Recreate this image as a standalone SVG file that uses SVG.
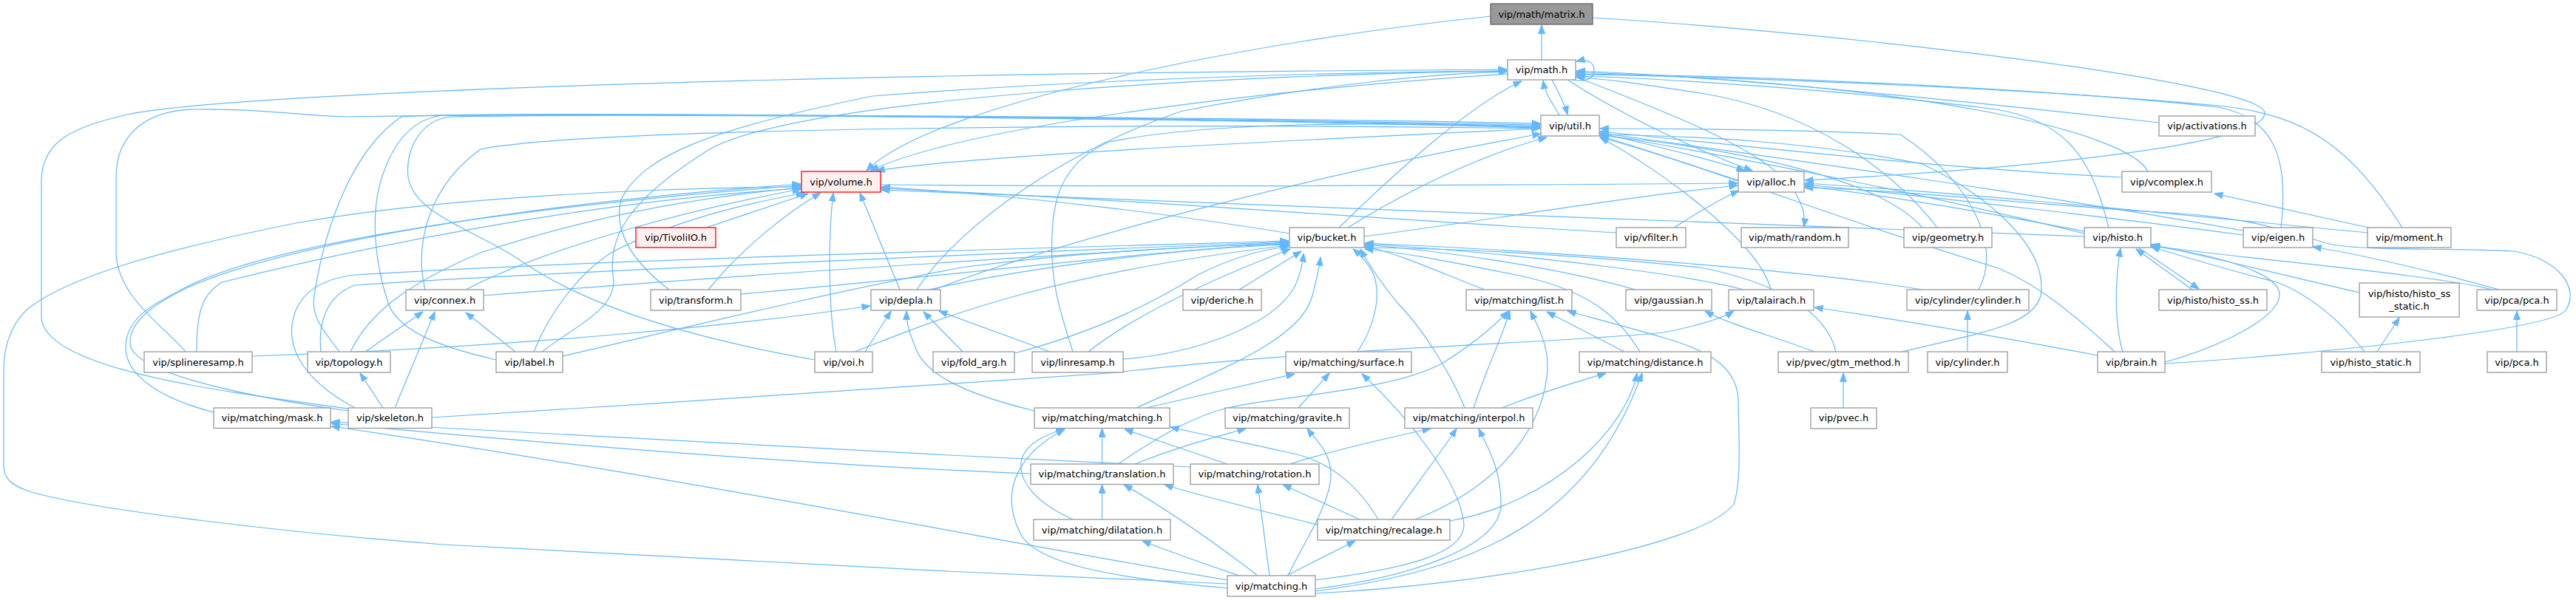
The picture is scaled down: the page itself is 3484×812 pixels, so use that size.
<svg xmlns="http://www.w3.org/2000/svg" width="3484" height="812" viewBox="0 0 3484 812">
<defs>
<style>
.n rect{fill:#ffffff;stroke:#999999;stroke-width:1.3}
.root rect{fill:#999999;stroke:#666666;stroke-width:1.3}
.tr rect{fill:#fff0f0;stroke:#ff0000;stroke-width:1.3}
text{font-family:"DejaVu Sans","Liberation Sans",sans-serif;font-size:13px;fill:#000000;text-anchor:middle}
.e path{fill:none;stroke:#63b8ff;stroke-width:1.2;marker-end:url(#ah)}
</style>
<marker id="ah" viewBox="0 0 12 10" refX="11.5" refY="5" markerWidth="12" markerHeight="10" markerUnits="userSpaceOnUse" orient="auto">
<path d="M0,0.5 L12,5 L0,9.5 z" fill="#63b8ff" stroke="#63b8ff" stroke-width="0.8"/>
</marker>
</defs>
<rect x="0" y="0" width="3484" height="812" fill="#ffffff"/>
<g id="connectors" class="e">
<path d="M2085,81 L2085,34"/>
<path d="M2016,22 C1700,55 1260,140 1172,231"/>
<path d="M2154,24 C2500,45 3040,110 3062,150 C3080,190 2800,225 2441,244"/>
<path d="M2126,108 C2148,112 2156,104 2156,95 C2156,85 2148,79 2132,83"/>
<path d="M2109,156 C2100,140 2090,128 2087,109"/>
<path d="M2099,108 C2108,125 2116,140 2120,155"/>
<path d="M2920,166 C2600,130 2300,102 2132,96"/>
<path d="M2905,232 C2880,180 2600,112 2132,98"/>
<path d="M3085,308 C3095,220 3080,160 3000,145 C2750,118 2350,102 2132,100"/>
<path d="M3249,308 C3180,200 3120,155 3000,143 C2750,120 2350,104 2132,101"/>
<path d="M2852,308 C2830,220 2800,165 2700,148 C2500,122 2250,106 2132,103"/>
<path d="M2620,308 C2560,230 2450,150 2300,126 C2220,114 2170,106 2132,105"/>
<path d="M471,553 C300,530 60,500 56,430 L56,245 C56,190 100,172 172,155 C300,128 1000,100 2038,94"/>
<path d="M251,476 C220,440 157,400 157,340 L157,240 C157,180 200,150 260,148 C350,146 420,158 470,158 C800,152 1600,158 2083,167"/>
<path d="M459,476 C440,450 420,430 425,400 C440,300 480,200 543,158 C650,150 1500,158 2083,169"/>
<path d="M671,487 C620,475 540,455 525,410 C505,350 500,280 520,230 C535,190 560,160 600,156 C900,152 1700,162 2083,171"/>
<path d="M1102,487 C950,460 800,420 700,350 C640,310 560,290 552,240 C548,200 570,162 610,158 C900,152 1700,162 2083,173"/>
<path d="M434,476 C430,440 440,400 480,386 C700,370 1300,345 1743,327"/>
<path d="M480,552 C420,520 390,480 395,440 C400,400 430,378 480,372 C800,352 1400,336 1743,326"/>
<path d="M722,476 C740,430 780,370 830,340 C930,290 1040,270 1088,261"/>
<path d="M697,476 L630,423"/>
<path d="M733,476 C780,440 830,420 830,380 C820,320 850,270 963,200 C1100,130 1700,100 2038,96"/>
<path d="M761,482 C900,450 1100,400 1300,362 C1450,342 1600,333 1743,330"/>
<path d="M955,308 L1093,262"/>
<path d="M630,392 C750,330 950,280 1083,256"/>
<path d="M289,558 C220,540 170,510 170,470 C170,430 210,410 240,395 C350,330 700,280 1083,251"/>
<path d="M471,556 C300,532 178,500 176,465 C174,430 222,405 252,390 C380,332 700,276 1083,249"/>
<path d="M1659,790 C1300,775 800,750 600,737 C400,722 120,690 40,665 C12,656 5,645 5,630 L5,500 C5,462 20,432 40,416 C90,378 200,342 400,302 C600,266 900,254 1083,253"/>
<path d="M1811,308 C1880,240 1990,140 2058,110"/>
<path d="M1823,308 C1900,260 2000,210 2092,186"/>
<path d="M1744,316 C1600,292 1400,266 1192,253"/>
<path d="M1676,392 L1760,340"/>
<path d="M1537,552 C1650,500 1760,460 1775,400 C1780,380 1784,365 1786,348"/>
<path d="M1256,392 C1400,360 1600,336 1743,331"/>
<path d="M1372,478 C1480,450 1560,410 1620,372 C1680,342 1720,336 1743,334"/>
<path d="M1472,476 C1530,430 1620,385 1745,337"/>
<path d="M1519,486 C1620,478 1720,440 1750,390 C1760,370 1762,355 1763,343"/>
<path d="M584,565 C900,545 1300,520 1500,505 C1800,470 2100,465 2250,450 C2300,440 2330,430 2345,421"/>
<path d="M1156,476 C1250,440 1400,372 1743,332"/>
<path d="M1002,398 C1300,372 1550,340 1743,329"/>
<path d="M654,400 C1000,372 1500,340 1743,328"/>
<path d="M2008,392 C1950,370 1900,346 1846,333"/>
<path d="M2212,392 C2100,360 1950,340 1846,331"/>
<path d="M2358,392 C2300,376 2100,346 1846,330"/>
<path d="M2599,392 C2450,366 2100,340 1846,329"/>
<path d="M1399,556 C1300,532 1250,505 1238,470 C1230,450 1226,440 1226,421"/>
<path d="M1302,476 L1249,422"/>
<path d="M1420,476 L1270,421"/>
<path d="M341,482 C700,470 1000,440 1177,414"/>
<path d="M1170,476 L1205,421"/>
<path d="M1217,392 L1163,261"/>
<path d="M1240,392 C1300,300 1450,200 1600,150 C1800,112 1950,99 2038,97"/>
<path d="M1263,392 C1450,320 1800,232 2084,181"/>
<path d="M1131,476 C1120,420 1120,320 1127,261"/>
<path d="M958,392 C1000,340 1060,290 1110,261"/>
<path d="M905,392 C850,350 830,310 840,270 C870,210 960,175 1180,130 C1500,105 1850,97 2038,96"/>
<path d="M494,476 L572,422"/>
<path d="M534,552 L588,422"/>
<path d="M518,552 L487,505"/>
<path d="M474,476 C500,420 560,380 650,342 C800,292 950,266 1083,254"/>
<path d="M266,476 C266,430 270,400 300,382 C500,332 800,272 1083,255"/>
<path d="M2163,180 C2250,200 2320,218 2360,231"/>
<path d="M2120,108 C2200,160 2300,205 2370,231"/>
<path d="M2351,244 C2300,228 2220,200 2164,184"/>
<path d="M1191,250 C1600,254 2100,250 2350,248"/>
<path d="M1845,320 C2000,300 2200,266 2350,251"/>
<path d="M2264,308 C2290,292 2320,272 2352,258"/>
<path d="M2819,313 C2700,290 2550,264 2441,252"/>
<path d="M3034,318 C2900,300 2600,264 2441,250"/>
<path d="M3202,315 C3000,296 2700,264 2441,248"/>
<path d="M2870,240 C2600,226 2350,196 2164,178"/>
<path d="M2819,316 C2600,262 2350,212 2164,182"/>
<path d="M3034,312 C2800,270 2400,212 2164,180"/>
<path d="M2600,308 C2540,240 2350,202 2164,183"/>
<path d="M2676,392 C2710,330 2660,240 2570,182 C2450,176 2300,174 2164,174"/>
<path d="M2573,476 C2680,450 2750,440 2760,400 C2770,340 2700,270 2600,222 C2450,192 2300,184 2164,182"/>
<path d="M2483,476 C2470,420 2400,382 2300,362 C2100,342 1950,336 1846,335"/>
<path d="M2395,392 C2380,330 2250,232 2164,186"/>
<path d="M2837,481 C2700,455 2550,430 2454,416"/>
<path d="M2871,476 C2860,440 2860,380 2868,336"/>
<path d="M2928,490 C3000,470 3080,432 3083,400 C3085,370 3000,345 2910,333"/>
<path d="M2928,492 C3100,482 3450,448 3470,420 C3490,390 3460,350 3400,340 C3300,335 3200,340 3150,330 C3100,316 3050,292 2900,286 C2700,272 2550,256 2441,254"/>
<path d="M2860,476 C2800,420 2750,382 2700,362 C2500,302 2300,222 2164,186"/>
<path d="M3198,476 C3170,440 3130,402 3080,382 C3000,362 2950,346 2909,334"/>
<path d="M3215,476 L3245,430"/>
<path d="M3191,396 C3100,375 3000,350 2909,331"/>
<path d="M2965,392 L2889,337"/>
<path d="M2892,335 L2974,391"/>
<path d="M3370,392 C3300,372 3000,347 2909,332"/>
<path d="M3380,392 C3300,370 3200,346 3128,334"/>
<path d="M3404,476 L3404,421"/>
<path d="M2454,476 C2400,455 2340,440 2306,421"/>
<path d="M2197,476 L2092,422"/>
<path d="M2218,476 C2190,430 2150,392 2050,372 C1950,352 1900,342 1846,337"/>
<path d="M1993,552 C2010,500 2030,460 2042,421"/>
<path d="M2031,552 C2100,525 2150,512 2172,505"/>
<path d="M1981,552 C1960,500 1920,440 1890,410 C1870,385 1852,360 1840,337"/>
<path d="M1836,476 C1860,440 1868,400 1858,372 C1850,355 1840,345 1830,337"/>
<path d="M1550,552 L1751,506"/>
<path d="M1756,552 L1798,505"/>
<path d="M1779,785 C1900,770 1980,750 1980,710 C1975,650 1900,560 1842,506"/>
<path d="M1490.5,628 L1490.5,580"/>
<path d="M1535,628 C1600,602 1650,590 1685,580"/>
<path d="M1512,628 C1580,582 1620,562 1660,552 C1720,537 1880,530 1950,492 C1990,467 2020,442 2040,421"/>
<path d="M1394,641 C1100,630 700,597 448,573"/>
<path d="M1660,628 L1521,581"/>
<path d="M1610,632 C1200,612 700,587 448,571"/>
<path d="M1745,628 C1800,610 1880,592 1935,580"/>
<path d="M1490.5,703 L1490.5,656"/>
<path d="M1451,703 C1400,680 1375,650 1382,620 C1390,600 1410,590 1440,580"/>
<path d="M1782,710 C1700,690 1620,670 1575,656"/>
<path d="M1839,703 L1735,656"/>
<path d="M1882,703 C1920,650 1950,610 1970,580"/>
<path d="M1961,705 C2100,680 2200,580 2214,505"/>
<path d="M1914,703 C2050,650 2100,550 2092,480 C2088,455 2078,438 2070,421"/>
<path d="M1864,703 C1840,662 1800,622 1740,612 C1680,598 1620,587 1583,578"/>
<path d="M1676,779 C1620,760 1580,746 1545,732"/>
<path d="M1701,779 C1650,740 1580,690 1520,656"/>
<path d="M1717,779 L1701,656"/>
<path d="M1740,779 L1833,732"/>
<path d="M1742,779 C1760,740 1800,682 1800,642 C1800,612 1780,596 1768,580"/>
<path d="M1660,796 C1500,782 1400,762 1380,722 C1350,662 1380,612 1440,581"/>
<path d="M1779,797 C1900,782 2030,742 2030,682 C2030,632 2010,602 2000,580"/>
<path d="M1779,800 C2000,772 2150,702 2221,505"/>
<path d="M1660,785 C1400,742 900,642 448,577"/>
<path d="M1779,803 C2000,792 2300,742 2345,682 C2355,652 2352,602 2351,542 C2350,502 2320,477 2250,457 C2200,442 2160,432 2120,421"/>
<path d="M2493,552 L2493,505"/>
<path d="M2661,476 L2661,421"/>
<path d="M2186,315 C1800,292 1500,268 1192,255"/>
<path d="M2819,320 C2300,302 1600,272 1192,257"/>
<path d="M2039,100 C1700,122 1300,172 1177,231"/>
<path d="M2084,174 C1700,192 1300,212 1185,231"/>
<path d="M2131,104 C2250,150 2380,200 2420,250 C2438,272 2442,290 2440,307"/>
<path d="M1451,476 C1440,440 1425,400 1423,350 C1420,280 1430,222 1500,192 C1650,162 1900,166 2083,172"/>
<path d="M575,392 C560,330 580,252 650,202 C800,172 1600,166 2083,174"/>
<path d="M3203,308 L2995,262"/>
</g>
<g id="n_matrix" class="root"><rect x="2016" y="5" width="138" height="28"/><text x="2085" y="23.5">vip/math/matrix.h</text></g>
<g id="n_math" class="n"><rect x="2039" y="81" width="92" height="27"/><text x="2085" y="99">vip/math.h</text></g>
<g id="n_util" class="n"><rect x="2084" y="156" width="79" height="28"/><text x="2123.5" y="174.5">vip/util.h</text></g>
<g id="n_activations" class="n"><rect x="2920" y="157" width="130" height="27"/><text x="2985" y="175">vip/activations.h</text></g>
<g id="n_volume" class="tr"><rect x="1084" y="232" width="107" height="28"/><text x="1137.5" y="250.5">vip/volume.h</text></g>
<g id="n_alloc" class="n"><rect x="2351" y="232" width="89" height="28"/><text x="2395.5" y="250.5">vip/alloc.h</text></g>
<g id="n_vcomplex" class="n"><rect x="2870" y="232" width="121" height="28"/><text x="2930.5" y="250.5">vip/vcomplex.h</text></g>
<g id="n_tivoli" class="tr"><rect x="860" y="308" width="108" height="27"/><text x="914" y="326">vip/TivoliIO.h</text></g>
<g id="n_bucket" class="n"><rect x="1744" y="308" width="101" height="27"/><text x="1794.5" y="326">vip/bucket.h</text></g>
<g id="n_vfilter" class="n"><rect x="2186" y="308" width="94" height="27"/><text x="2233" y="326">vip/vfilter.h</text></g>
<g id="n_random" class="n"><rect x="2355" y="308" width="145" height="27"/><text x="2427.5" y="326">vip/math/random.h</text></g>
<g id="n_geometry" class="n"><rect x="2575" y="308" width="119" height="27"/><text x="2634.5" y="326">vip/geometry.h</text></g>
<g id="n_histo" class="n"><rect x="2819" y="308" width="90" height="27"/><text x="2864" y="326">vip/histo.h</text></g>
<g id="n_eigen" class="n"><rect x="3034" y="308" width="94" height="27"/><text x="3081" y="326">vip/eigen.h</text></g>
<g id="n_moment" class="n"><rect x="3202" y="308" width="113" height="27"/><text x="3258.5" y="326">vip/moment.h</text></g>
<g id="n_connex" class="n"><rect x="549" y="392" width="105" height="28"/><text x="601.5" y="410.5">vip/connex.h</text></g>
<g id="n_transform" class="n"><rect x="880" y="392" width="122" height="28"/><text x="941" y="410.5">vip/transform.h</text></g>
<g id="n_depla" class="n"><rect x="1178" y="392" width="94" height="28"/><text x="1225" y="410.5">vip/depla.h</text></g>
<g id="n_deriche" class="n"><rect x="1600" y="392" width="106" height="28"/><text x="1653" y="410.5">vip/deriche.h</text></g>
<g id="n_mlist" class="n"><rect x="1983" y="392" width="143" height="28"/><text x="2054.5" y="410.5">vip/matching/list.h</text></g>
<g id="n_gaussian" class="n"><rect x="2199" y="392" width="116" height="28"/><text x="2257" y="410.5">vip/gaussian.h</text></g>
<g id="n_talairach" class="n"><rect x="2338" y="392" width="115" height="28"/><text x="2395.5" y="410.5">vip/talairach.h</text></g>
<g id="n_cylcyl" class="n"><rect x="2579" y="392" width="165" height="28"/><text x="2661.5" y="410.5">vip/cylinder/cylinder.h</text></g>
<g id="n_histo_ss" class="n"><rect x="2920" y="392" width="146" height="28"/><text x="2993" y="410.5">vip/histo/histo_ss.h</text></g>
<g id="n_histo_ss_static" class="n"><rect x="3191" y="383" width="135" height="46"/><text x="3258.5" y="401.5">vip/histo/histo_ss</text><text x="3258.5" y="418.5">_static.h</text></g>
<g id="n_pcapca" class="n"><rect x="3350" y="392" width="108" height="28"/><text x="3404" y="410.5">vip/pca/pca.h</text></g>
<g id="n_splineresamp" class="n"><rect x="195" y="476" width="146" height="28"/><text x="268" y="494.5">vip/splineresamp.h</text></g>
<g id="n_topology" class="n"><rect x="416" y="476" width="112" height="28"/><text x="472" y="494.5">vip/topology.h</text></g>
<g id="n_label" class="n"><rect x="671" y="476" width="90" height="28"/><text x="716" y="494.5">vip/label.h</text></g>
<g id="n_voi" class="n"><rect x="1102" y="476" width="78" height="28"/><text x="1141" y="494.5">vip/voi.h</text></g>
<g id="n_fold_arg" class="n"><rect x="1262" y="476" width="110" height="28"/><text x="1317" y="494.5">vip/fold_arg.h</text></g>
<g id="n_linresamp" class="n"><rect x="1396" y="476" width="123" height="28"/><text x="1457.5" y="494.5">vip/linresamp.h</text></g>
<g id="n_msurface" class="n"><rect x="1739" y="476" width="170" height="28"/><text x="1824" y="494.5">vip/matching/surface.h</text></g>
<g id="n_mdistance" class="n"><rect x="2136" y="476" width="178" height="28"/><text x="2225" y="494.5">vip/matching/distance.h</text></g>
<g id="n_gtm" class="n"><rect x="2405" y="476" width="176" height="28"/><text x="2493" y="494.5">vip/pvec/gtm_method.h</text></g>
<g id="n_cylinder" class="n"><rect x="2607" y="476" width="108" height="28"/><text x="2661" y="494.5">vip/cylinder.h</text></g>
<g id="n_brain" class="n"><rect x="2837" y="476" width="91" height="28"/><text x="2882.5" y="494.5">vip/brain.h</text></g>
<g id="n_histo_static" class="n"><rect x="3140" y="476" width="133" height="28"/><text x="3206.5" y="494.5">vip/histo_static.h</text></g>
<g id="n_pca" class="n"><rect x="3364" y="476" width="80" height="28"/><text x="3404" y="494.5">vip/pca.h</text></g>
<g id="n_mask" class="n"><rect x="289" y="552" width="158" height="27.5"/><text x="368" y="570">vip/matching/mask.h</text></g>
<g id="n_skeleton" class="n"><rect x="471" y="552" width="113" height="27.5"/><text x="527.5" y="570">vip/skeleton.h</text></g>
<g id="n_mmatching" class="n"><rect x="1399" y="552" width="183" height="27.5"/><text x="1490.5" y="570">vip/matching/matching.h</text></g>
<g id="n_mgravite" class="n"><rect x="1657" y="552" width="168" height="27.5"/><text x="1741" y="570">vip/matching/gravite.h</text></g>
<g id="n_minterpol" class="n"><rect x="1900" y="552" width="173" height="27.5"/><text x="1986.5" y="570">vip/matching/interpol.h</text></g>
<g id="n_pvec" class="n"><rect x="2449" y="552" width="89" height="28"/><text x="2493.5" y="570">vip/pvec.h</text></g>
<g id="n_mtranslation" class="n"><rect x="1394" y="628" width="193" height="27.5"/><text x="1490.5" y="646">vip/matching/translation.h</text></g>
<g id="n_mrotation" class="n"><rect x="1610" y="628" width="174" height="27.5"/><text x="1697" y="646">vip/matching/rotation.h</text></g>
<g id="n_mdilatation" class="n"><rect x="1398" y="703" width="185" height="28"/><text x="1490.5" y="721.5">vip/matching/dilatation.h</text></g>
<g id="n_mrecalage" class="n"><rect x="1782" y="703" width="179" height="28"/><text x="1871.5" y="721.5">vip/matching/recalage.h</text></g>
<g id="n_matching" class="n"><rect x="1660" y="779" width="119" height="28"/><text x="1719.5" y="797.5">vip/matching.h</text></g>
</svg>
